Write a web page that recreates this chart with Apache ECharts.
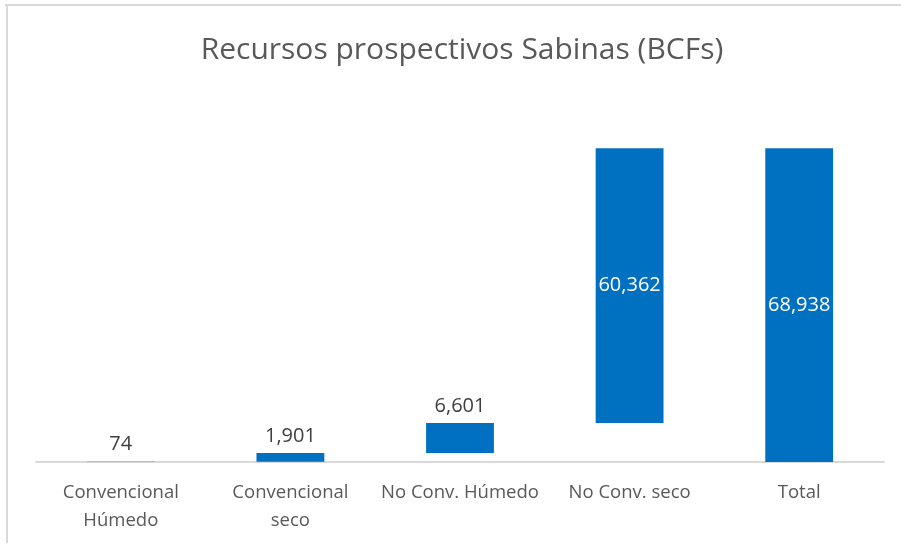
<!DOCTYPE html>
<html><head><meta charset="utf-8">
<script src="https://cdn.jsdelivr.net/npm/echarts@6/dist/echarts.min.js"></script>
<style>html,body{margin:0;padding:0;background:#fff}#c{width:901px;height:546px}</style>
</head><body><div id="c"></div>
<script>
const categories = ['Convencional\nHúmedo', 'Convencional\nseco', 'No Conv. Húmedo', 'No Conv. seco', 'Total'];
const values = [74, 1901, 6601, 60362, 68938];
const isTotal = [false, false, false, false, true];
const insideLabel = [false, false, false, true, true];

const base = [];
let run = 0;
values.forEach((v, i) => {
  if (isTotal[i]) { base.push(0); }
  else { base.push(run); run += v; }
});

const chart = echarts.init(document.getElementById('c'));
const fontFam = '"Open Sans", "Noto Sans", sans-serif';
chart.setOption({
  animation: false,
  title: {
    text: 'Recursos prospectivos Sabinas (BCFs)',
    left: 457, top: 30, textAlign: 'center',
    textStyle: { fontFamily: fontFam, fontSize: 30, fontWeight: 'normal', color: '#595959' }
  },
  grid: { left: 36, right: 17, top: 98, bottom: 84 },
  xAxis: {
    type: 'category', data: categories,
    axisLine: { lineStyle: { color: '#d9d9d9', width: 2 } },
    axisTick: { show: false },
    axisLabel: { interval: 0, margin: 17, fontFamily: fontFam, fontSize: 18.5, color: '#595959', lineHeight: 28 }
  },
  yAxis: { type: 'value', min: 0, max: 80000, show: false, splitLine: { show: false } },
  series: [
    { type: 'bar', stack: 'w', data: base, itemStyle: { color: 'transparent' }, silent: true, barWidth: '40%' },
    {
      type: 'bar', stack: 'w', barWidth: '40%',
      itemStyle: { color: '#0070c0' },
      data: values.map((v, i) => ({
        value: v,
        label: {
          show: true,
          position: insideLabel[i] ? 'inside' : 'top',
          distance: 7,
          color: insideLabel[i] ? '#ffffff' : '#404040',
          fontFamily: fontFam, fontSize: 20,
          formatter: p => p.value.toLocaleString('en-US')
        }
      }))
    }
  ],
  graphic: [
    { type: 'line', shape: { x1: 5, y1: 5, x2: 901, y2: 5 }, style: { stroke: '#d9d9d9', lineWidth: 2 } },
    { type: 'line', shape: { x1: 7, y1: 4, x2: 7, y2: 543 }, style: { stroke: '#d9d9d9', lineWidth: 2 } }
  ]
});
</script></body></html>
